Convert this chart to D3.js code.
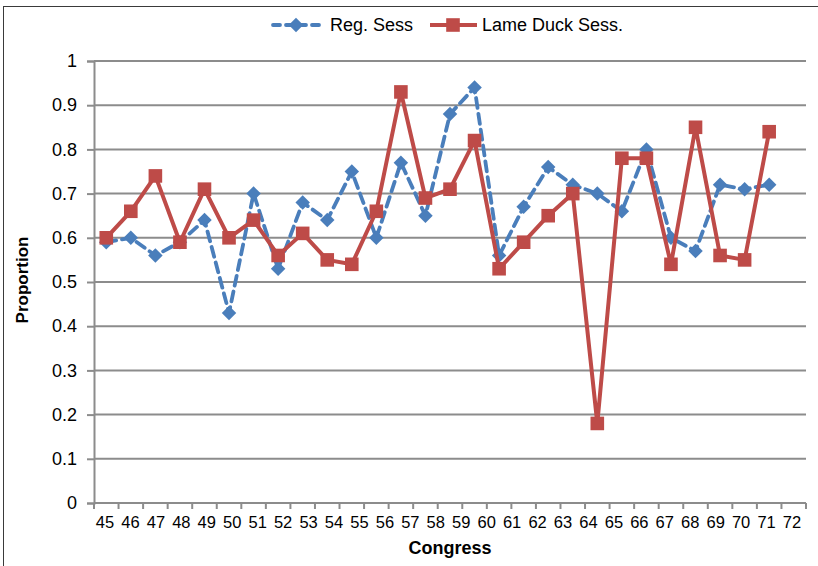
<!DOCTYPE html>
<html>
<head>
<meta charset="utf-8">
<script src="https://cdn.jsdelivr.net/npm/d3@7"></script>
<style>
  html, body { margin: 0; padding: 0; background: #fff; }
  svg { display: block; font-family: "Liberation Sans", Arial, Helvetica, sans-serif; }
</style>
</head>
<body>
<svg id="chart" width="818" height="566"></svg>
<script>
// ---- data ----
const congressLabels = [45,46,47,48,49,50,51,52,53,54,55,56,57,58,59,60,61,62,63,64,65,66,67,68,69,70,71,72];
const regSess = [0.59,0.60,0.56,0.59,0.64,0.43,0.70,0.53,0.68,0.64,0.75,0.60,0.77,0.65,0.88,0.94,0.56,0.67,0.76,0.72,0.70,0.66,0.80,0.60,0.57,0.72,0.71,0.72];
const lameDuck = [0.60,0.66,0.74,0.59,0.71,0.60,0.64,0.56,0.61,0.55,0.54,0.66,0.93,0.69,0.71,0.82,0.53,0.59,0.65,0.70,0.18,0.78,0.78,0.54,0.85,0.56,0.55,0.84];
const yTicks = [0,0.1,0.2,0.3,0.4,0.5,0.6,0.7,0.8,0.9,1];
const seriesNames = ["Reg. Sess", "Lame Duck Sess."];

const BLUE = "#4a7ebb", RED = "#be4b48", GRID = "#8c8c8c";

const svg = d3.select("#chart");

// outer frame
svg.append("rect").attr("x", 3.5).attr("y", 6.5).attr("width", 830).attr("height", 580)
  .attr("fill", "none").attr("stroke", "#3a3a3a").attr("stroke-width", 1);

const pLeft = 94, pRight = 806, pTop = 61, pBottom = 503;

// 29 category slots (last one empty)
const slots = d3.range(congressLabels.length + 1);
const x = d3.scaleBand().domain(slots).range([pLeft, pRight]).paddingInner(0).paddingOuter(0);
const xc = i => x(i) + x.bandwidth() / 2;
const xl = d3.scalePoint().domain(congressLabels).range([105, 792]);
const y = d3.scaleLinear().domain([0, 1]).range([pBottom, pTop]);

// gridlines
svg.append("g").selectAll("line").data(yTicks.filter(d => d > 0)).join("line")
  .attr("x1", pLeft).attr("x2", pRight)
  .attr("y1", d => y(d)).attr("y2", d => y(d))
  .attr("stroke", GRID).attr("stroke-width", 2);

// y axis
const yAxis = d3.axisLeft(y).tickValues(yTicks).tickSize(7).tickFormat(d => d3.format("~g")(d));
const gy = svg.append("g").attr("transform", `translate(${pLeft},0)`).call(yAxis);
gy.select(".domain").attr("stroke", GRID).attr("stroke-width", 2);
gy.selectAll(".tick line").attr("stroke", GRID).attr("stroke-width", 2);
gy.selectAll(".tick text").attr("x", -17).attr("font-size", 18).attr("fill", "#000")
  .attr("font-family", "Liberation Sans, Arial, sans-serif");

// x axis line + ticks at slot boundaries
svg.append("line").attr("x1", pLeft).attr("x2", pRight).attr("y1", pBottom).attr("y2", pBottom)
  .attr("stroke", GRID).attr("stroke-width", 2);
const boundaries = d3.range(slots.length + 1).map(k => pLeft + k * x.bandwidth());
svg.append("g").selectAll("line").data(boundaries).join("line")
  .attr("x1", d => d).attr("x2", d => d).attr("y1", pBottom).attr("y2", pBottom + 6)
  .attr("stroke", GRID).attr("stroke-width", 2);

// x labels
svg.append("g").selectAll("text").data(congressLabels).join("text")
  .attr("x", d => xl(d)).attr("y", 528)
  .attr("text-anchor", "middle").attr("font-size", 16.5).attr("fill", "#000")
  .text(d => d);

// axis titles
svg.append("text").attr("x", 450).attr("y", 554).attr("text-anchor", "middle")
  .attr("font-size", 18).attr("font-weight", "bold").text("Congress");
svg.append("text").attr("transform", "translate(28,280) rotate(-90)").attr("text-anchor", "middle")
  .attr("font-size", 17).attr("font-weight", "bold").text("Proportion");

const line = d3.line().x((d, i) => xc(i)).y(d => y(d));

const diamondPath = d3.symbol().type(d3.symbolSquare).size(105);
const square = d3.symbol().type(d3.symbolSquare).size(185);

// Reg. Sess series
svg.append("path").datum(regSess).attr("d", line).attr("fill", "none")
  .attr("stroke", BLUE).attr("stroke-width", 3.8).attr("stroke-dasharray", "10,6")
  .attr("stroke-linecap", "round").attr("stroke-linejoin", "round");
svg.append("g").selectAll("path").data(regSess).join("path")
  .attr("d", diamondPath)
  .attr("transform", (d, i) => `translate(${xc(i)},${y(d)}) rotate(45)`)
  .attr("fill", BLUE);

// Lame Duck series
svg.append("path").datum(lameDuck).attr("d", line).attr("fill", "none")
  .attr("stroke", RED).attr("stroke-width", 4).attr("stroke-linejoin", "round");
svg.append("g").selectAll("path").data(lameDuck).join("path")
  .attr("d", square)
  .attr("transform", (d, i) => `translate(${xc(i)},${y(d)})`)
  .attr("fill", RED);

// legend
const lg = svg.append("g");
lg.append("line").attr("x1", 273).attr("x2", 320).attr("y1", 25).attr("y2", 25)
  .attr("stroke", BLUE).attr("stroke-width", 3.8).attr("stroke-dasharray", "7,6").attr("stroke-linecap", "round");
lg.append("path").attr("d", diamondPath)
  .attr("transform", "translate(296,25) rotate(45)").attr("fill", BLUE);
lg.append("text").attr("x", 330).attr("y", 31).attr("font-size", 18).text(seriesNames[0]);
lg.append("line").attr("x1", 430).attr("x2", 477).attr("y1", 25).attr("y2", 25)
  .attr("stroke", RED).attr("stroke-width", 4);
lg.append("path").attr("d", square).attr("transform", "translate(453,25)").attr("fill", RED);
lg.append("text").attr("x", 482).attr("y", 31).attr("font-size", 18).text(seriesNames[1]);
</script>
</body>
</html>
